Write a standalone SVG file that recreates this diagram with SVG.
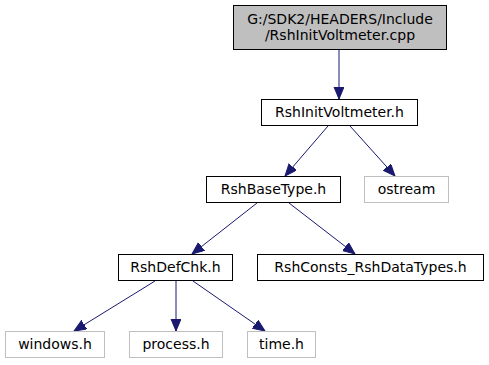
<svg xmlns="http://www.w3.org/2000/svg" width="489" height="365" viewBox="0 0 489 365">
<style>
text{font-family:"DejaVu Sans",sans-serif;font-size:14px;text-anchor:middle;fill:#000}
.n rect{fill:#fff;stroke:#000;stroke-width:1}
.g rect{fill:#fff;stroke:#bfbfbf;stroke-width:1}
.e line{stroke:#191970;stroke-width:1}
</style>
<defs>
<marker id="a" markerUnits="userSpaceOnUse" markerWidth="13" markerHeight="11" refX="12" refY="5" orient="auto" viewBox="0 0 13 11">
<polygon points="0,0 12,5 0,10" fill="#191970" stroke="#191970"/>
</marker>
</defs>
<g class="e" id="edges">
<line x1="339" y1="49" x2="339" y2="99" marker-end="url(#a)"/>
<line x1="328" y1="126" x2="285" y2="176" marker-end="url(#a)"/>
<line x1="350" y1="126" x2="395" y2="176" marker-end="url(#a)"/>
<line x1="257" y1="203" x2="192" y2="254" marker-end="url(#a)"/>
<line x1="289" y1="203" x2="355" y2="254" marker-end="url(#a)"/>
<line x1="155" y1="281" x2="74" y2="331" marker-end="url(#a)"/>
<line x1="176" y1="281" x2="176" y2="331" marker-end="url(#a)"/>
<line x1="193" y1="281" x2="265" y2="331" marker-end="url(#a)"/>
</g>
<g id="n0" class="n"><rect x="233.5" y="5.5" width="213" height="44" style="fill:#bfbfbf"/><text x="340" y="24">G:/SDK2/HEADERS/Include</text><text x="340" y="40">/RshInitVoltmeter.cpp</text></g>
<g id="n1" class="n"><rect x="261.5" y="99.5" width="156" height="26"/><text x="339.5" y="117">RshInitVoltmeter.h</text></g>
<g id="n2" class="n"><rect x="206.5" y="176.5" width="134" height="26"/><text x="273.5" y="194">RshBaseType.h</text></g>
<g id="n3" class="g"><rect x="364.5" y="176.5" width="84" height="26"/><text x="406.5" y="194">ostream</text></g>
<g id="n4" class="n"><rect x="118.5" y="254.5" width="114" height="26"/><text x="175.5" y="272">RshDefChk.h</text></g>
<g id="n5" class="n"><rect x="257.5" y="254.5" width="226" height="26"/><text x="370.5" y="272">RshConsts_RshDataTypes.h</text></g>
<g id="n6" class="g"><rect x="5.5" y="331.5" width="99" height="26"/><text x="55" y="349">windows.h</text></g>
<g id="n7" class="g"><rect x="129.5" y="331.5" width="93" height="26"/><text x="176" y="349">process.h</text></g>
<g id="n8" class="g"><rect x="247.5" y="331.5" width="68" height="26"/><text x="281.5" y="349">time.h</text></g>
</svg>
